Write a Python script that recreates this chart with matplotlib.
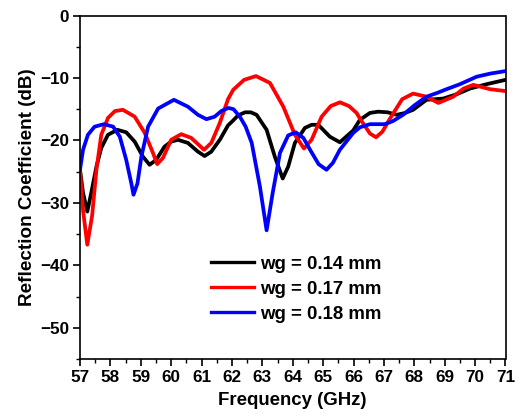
import matplotlib
matplotlib.use("Agg")
import matplotlib.pyplot as plt
from matplotlib.ticker import MultipleLocator

plt.rcParams['font.family'] = ['Liberation Sans', 'DejaVu Sans']
plt.rcParams['font.weight'] = 'bold'

freq_014 = [57.0, 57.1, 57.24, 57.37, 57.54, 57.7, 57.92, 58.23, 58.52, 58.8, 59.07, 59.29, 59.51,
            59.78, 60.0, 60.22, 60.55, 60.88, 61.1, 61.32, 61.6, 61.87, 62.02, 62.2, 62.43, 62.62,
            62.81, 63.14, 63.41, 63.67, 63.85, 64.07, 64.4, 64.62, 64.84, 65.22, 65.55, 65.99,
            66.21, 66.54, 66.81, 67.12, 67.42, 67.7, 67.96, 68.4, 68.95, 69.4, 69.83, 70.38, 71.0]
s11_014 = [-24.7, -28.4, -31.4, -28.4, -24.2, -21.2, -19.1, -18.3, -18.7, -20.2, -22.6, -23.9,
           -23.1, -21.0, -20.2, -19.9, -20.4, -21.8, -22.5, -21.8, -19.9, -17.6, -16.9, -16.0,
           -15.5, -15.5, -15.9, -18.3, -22.6, -26.1, -24.2, -20.4, -18.0, -17.5, -17.5, -19.4,
           -20.3, -18.4, -16.7, -15.6, -15.4, -15.5, -15.9, -15.6, -15.1, -13.5, -13.3, -12.6,
           -11.7, -11.0, -10.3]

freq_017 = [57.0, 57.1, 57.24, 57.4, 57.54, 57.7, 57.92, 58.15, 58.41, 58.8, 59.13, 59.4, 59.54,
            59.73, 60.0, 60.33, 60.66, 61.08, 61.32, 61.6, 61.87, 62.04, 62.4, 62.79, 63.25, 63.69,
            64.07, 64.37, 64.62, 64.95, 65.25, 65.55, 65.85, 66.1, 66.21, 66.54, 66.74, 66.95, 67.2,
            67.6, 67.96, 68.4, 68.79, 69.28, 69.62, 69.94, 70.49, 71.0]
s11_017 = [-24.7, -31.2, -36.7, -32.0, -24.7, -19.1, -16.4, -15.3, -15.1, -16.2, -18.8, -22.0,
           -23.8, -22.8, -19.9, -19.0, -19.6, -21.5, -20.4, -17.2, -13.4, -11.9, -10.3, -9.7, -10.8,
           -14.6, -19.1, -21.3, -19.9, -16.2, -14.5, -13.9, -14.5, -15.6, -16.5, -18.9, -19.5,
           -18.6, -16.5, -13.4, -12.5, -13.0, -14.0, -13.0, -11.7, -11.1, -11.8, -12.1]

freq_018 = [57.0, 57.1, 57.26, 57.48, 57.79, 58.09, 58.31, 58.52, 58.69, 58.76, 58.89, 59.02, 59.24,
            59.57, 60.09, 60.55, 60.88, 61.16, 61.43, 61.65, 61.88, 62.05, 62.26, 62.45, 62.65,
            62.92, 63.14, 63.34, 63.58, 63.85, 64.1, 64.35, 64.57, 64.85, 65.11, 65.32, 65.55,
            65.99, 66.21, 66.54, 67.03, 67.3, 67.63, 68.0, 68.4, 68.75, 69.06, 69.5, 70.05, 70.5,
            71.0]
s11_018 = [-24.7, -21.5, -19.1, -17.8, -17.4, -17.8, -19.4, -23.1, -26.9, -28.7, -26.9, -22.6,
           -17.8, -14.9, -13.5, -14.6, -15.9, -16.6, -16.2, -15.3, -14.8, -15.0, -16.2, -17.8,
           -20.4, -27.4, -34.4, -28.4, -22.0, -19.2, -18.7, -19.6, -21.5, -23.8, -24.7, -23.6,
           -21.5, -18.8, -17.9, -17.4, -17.4, -16.9, -15.9, -14.4, -13.0, -12.4, -11.8, -11.0,
           -9.8, -9.3, -8.9]

labels = ['wg = 0.14 mm', 'wg = 0.17 mm', 'wg = 0.18 mm']
colors = ['black', 'red', 'blue']

fig = plt.figure(figsize=(5.23, 4.17), dpi=100)
ax = fig.add_axes([80/523, 1 - 359/417, (505.5 - 80)/523, (359 - 15.5)/417])

for f, s, lab, c in zip([freq_014, freq_017, freq_018], [s11_014, s11_017, s11_018], labels, colors):
    ax.plot(f, s, color=c, lw=2.7, label=lab, solid_joinstyle='round')

ax.set_xlim(57, 71)
ax.set_ylim(-55, 0)
ax.xaxis.set_major_locator(MultipleLocator(1))
ax.xaxis.set_minor_locator(MultipleLocator(0.5))
ax.yaxis.set_major_locator(MultipleLocator(10))
ax.yaxis.set_minor_locator(MultipleLocator(5))
ax.tick_params(which='major', direction='out', length=5, width=1.2, labelsize=12.3, pad=3)
ax.tick_params(which='minor', direction='out', length=3, width=1.0)
for sp in ax.spines.values():
    sp.set_linewidth(1.2)
for t in ax.get_xticklabels() + ax.get_yticklabels():
    t.set_fontweight('bold')

ax.set_xlabel('Frequency (GHz)', fontsize=13.4, fontweight='bold', labelpad=5)
ax.set_ylabel('Reflection Coefficient (dB)', fontsize=13.6, fontweight='bold', labelpad=3)

leg = ax.legend(loc='center left', bbox_to_anchor=((211 - 80) / 425.5, (359 - 289.3) / 343.5),
                frameon=False, borderpad=0, borderaxespad=0,
                prop={'size': 13.4, 'weight': 'bold'}, handlelength=2.3, labelspacing=0.42,
                handletextpad=0.35)
for h in leg.get_lines():
    h.set_linewidth(2.4)

fig.savefig('out.png', dpi=100)
